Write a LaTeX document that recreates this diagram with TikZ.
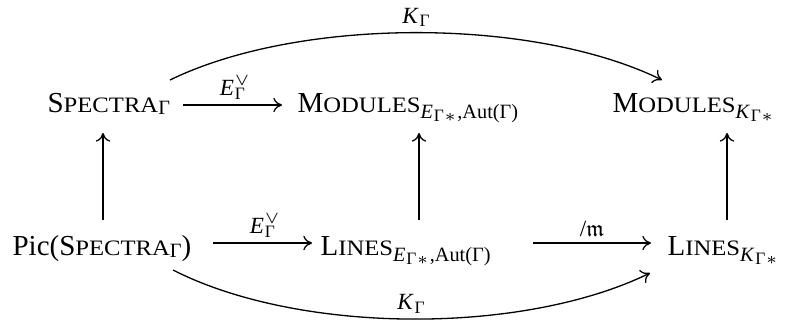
\documentclass[tikz,border=0pt]{standalone}
\usepackage{amssymb}
\usepackage{fontspec}
\setmainfont{Liberation Serif}
\newfontfamily\scfont[FakeStretch=1.12]{Liberation Serif}
\usetikzlibrary{arrows.meta,calc}
\newcommand\fakesc[2]{#1{\scfont\fontsize{7.6pt}{9pt}\selectfont #2}}
\newcommand\ssz{\fontsize{7pt}{8pt}\selectfont}
\newcommand\sssz{\fontsize{6pt}{7pt}\selectfont}
\newcommand\lsz{\fontsize{8pt}{9pt}\selectfont}
\newcommand\subG{\raisebox{-0.7pt}{\ssz Γ}}
\newcommand\subE{\raisebox{-2.3pt}{\ssz\textit{E}\raisebox{-1pt}{\sssz\kern0.3pt Γ\kern0.2pt$\ast$}\kern0.6pt,Aut(Γ)}}
\newcommand\subK{\raisebox{-2.3pt}{\ssz\textit{K}\raisebox{-1pt}{\sssz\kern0.3pt Γ\kern0.2pt$\ast$}}}
\newcommand\lblE{\lsz\textit{E}\rlap{\raisebox{3.4pt}{\sssz\kern0.3pt$\vee$}}\raisebox{-1.3pt}{\sssz\kern0.3pt Γ}}
\newcommand\lblK{\lsz\textit{K}\raisebox{-1.3pt}{\sssz\kern0.3pt Γ}}
\begin{document}
\begin{tikzpicture}[x=0.345pt,y=-0.345pt,
  obj/.style={anchor=base west,inner sep=0pt,font=\fontsize{10pt}{12pt}\selectfont},
  arr/.style={-{To[length=3pt,width=5pt]},line width=0.45pt},
  lab/.style={inner sep=1.8pt}]
\useasboundingbox (0,0) rectangle (811,320);
\node[obj] (S)  at (47,112)  {\fakesc{S}{PECTRA}\subG};
\node[obj] (ME) at (297,112) {\fakesc{M}{ODULES}\subE};
\node[obj] (MK) at (612,112) {\fakesc{M}{ODULES}\subK};
\node[obj] (P)  at (12,255)  {Pic(\fakesc{S}{PECTRA}\subG)};
\node[obj] (LE) at (320,255) {\fakesc{L}{INES}\subE};
\node[obj] (LK) at (667,255) {\fakesc{L}{INES}\subK};
\coordinate (cA) at (103,0);
\coordinate (cB) at (419,0);
\coordinate (cC) at (727,0);
% horizontal
\draw[arr] ($(S.base west)+(136,-7)$) -- node[lab,above] {\lblE} ($(ME.base west)+(-15,-7)$);
\draw[arr] ($(P.base west)+(201,-12)$) -- node[lab,above] {\lblE} ($(LE.base west)+(-8,-12)$);
\draw[arr] ($(LE.base west)+(213,-12)$) -- node[lab,above] {\lsz/$\mathfrak{m}$} ($(LK.base west)+(-16,-12)$);
% vertical
\draw[arr] ($(P.base west -| cA)+(0,-35)$) -- ($(S.base west -| cA)+(0,21)$);
\draw[arr] ($(LE.base west -| cB)+(0,-35)$) -- ($(ME.base west -| cB)+(0,21)$);
\draw[arr] ($(LK.base west -| cC)+(0,-35)$) -- ($(MK.base west -| cC)+(0,21)$);
% curves
\draw[arr] ($(S.base west)+(123,-32)$) to[out=26,in=154,looseness=0.75] node[lab,above] {\lblK} ($(MK.base west)+(50,-32)$);
\draw[arr] ($(P.base west)+(161,15)$) to[out=-27,in=206,looseness=0.76] node[lab,above] {\lblK} ($(LK.base west)+(-17,18)$);
\end{tikzpicture}
\end{document}
